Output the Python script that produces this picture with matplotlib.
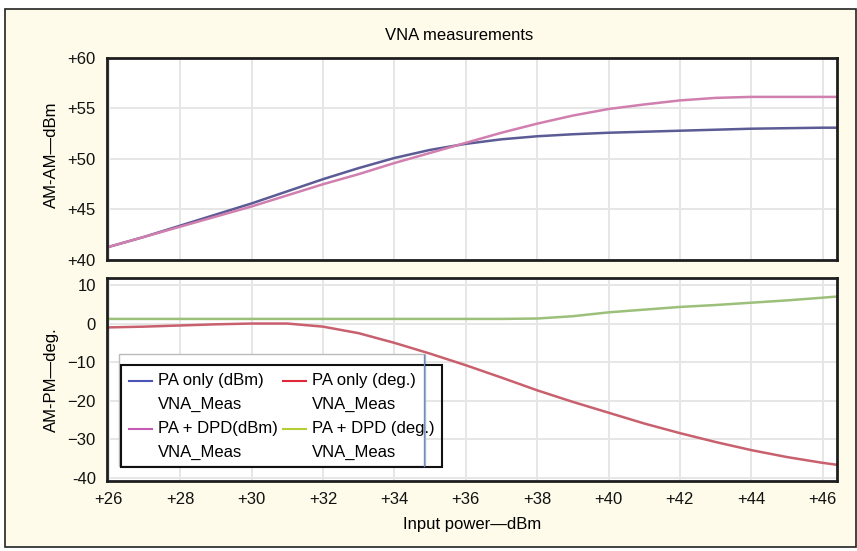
import matplotlib.pyplot as plt
from matplotlib.lines import Line2D
from matplotlib.patches import Rectangle
from matplotlib.legend_handler import HandlerLine2D

plt.rcParams['font.family'] = ['Liberation Sans', 'DejaVu Sans']

# input power, dBm
power = [26, 27, 28, 29, 30, 31, 32, 33, 34, 35, 36, 37, 38, 39, 40, 41, 42, 43, 44, 45, 46, 46.4]

# AM-AM, dBm
pa_only_dbm = [41.3, 42.3, 43.4, 44.5, 45.6, 46.8, 48.0, 49.1, 50.1, 50.9, 51.5, 51.95,
               52.25, 52.45, 52.6, 52.7, 52.8, 52.9, 53.0, 53.05, 53.1, 53.1]
pa_dpd_dbm = [41.3, 42.3, 43.3, 44.3, 45.3, 46.4, 47.5, 48.5, 49.6, 50.6, 51.6, 52.6,
              53.5, 54.3, 54.95, 55.4, 55.8, 56.05, 56.15, 56.15, 56.15, 56.15]

# AM-PM, deg.
pa_only_deg = [-1.0, -0.8, -0.5, -0.2, 0.0, 0.0, -0.8, -2.5, -5.0, -7.8, -10.8, -14.0,
               -17.3, -20.3, -23.1, -25.9, -28.4, -30.7, -32.8, -34.6, -36.1, -36.6]
pa_dpd_deg = [1.2, 1.2, 1.2, 1.2, 1.2, 1.2, 1.2, 1.2, 1.2, 1.2, 1.2, 1.2,
              1.3, 1.9, 2.9, 3.6, 4.3, 4.8, 5.4, 6.0, 6.7, 7.0]

x_ticks = [26, 28, 30, 32, 34, 36, 38, 40, 42, 44, 46]
x_labels = ['+26', '+28', '+30', '+32', '+34', '+36', '+38', '+40', '+42', '+44', '+46']
top_ticks = [40, 45, 50, 55, 60]
top_labels = ['+40', '+45', '+50', '+55', '+60']
bot_ticks = [10, 0, -10, -20, -30, -40]
bot_labels = ['10', '0', '\u221210', '\u221220', '\u221230', '-40']

legend_labels = ['PA only (dBm)\nVNA_Meas', 'PA + DPD(dBm)\nVNA_Meas',
                 'PA only (deg.)\nVNA_Meas', 'PA + DPD (deg.)\nVNA_Meas']
legend_colors = ['#4b55b5', '#c45bb5', '#e0283a', '#b5cc35']


class FirstLineHandler(HandlerLine2D):
    # put the legend line next to the first text line, not the middle
    def create_artists(self, legend, orig_handle, xdescent, ydescent, width, height, fontsize, trans):
        arts = super().create_artists(legend, orig_handle, xdescent, ydescent, width, height, fontsize, trans)
        for a in arts:
            a.set_ydata([y + 0.68 * fontsize for y in a.get_ydata()])
        return arts


W, H = 857, 551
fig = plt.figure(figsize=(W / 100, H / 100), dpi=100, facecolor='white')
fig.patches.append(Rectangle((5 / W, 1 - 547 / H), 851 / W, 538 / H, transform=fig.transFigure,
                             facecolor='#fefbea', edgecolor='#222222', linewidth=1.2, zorder=-10))

ax1 = fig.add_axes([107 / W, 1 - 260 / H, 730 / W, 202 / H])
ax2 = fig.add_axes([107 / W, 1 - 481 / H, 730 / W, 203 / H])

ax1.plot(power, pa_only_dbm, color='#5b5b95', linewidth=1.8)
ax1.plot(power, pa_dpd_dbm, color='#d07fae', linewidth=1.8)
ax2.plot(power, pa_dpd_deg, color='#9cc07a', linewidth=1.8)
ax2.plot(power, pa_only_deg, color='#c8606e', linewidth=1.8)

for ax in (ax1, ax2):
    ax.set_facecolor('white')
    ax.set_xlim(25.95, 46.4)
    ax.set_xticks(x_ticks)
    ax.grid(True, color='#e6e6e6', linewidth=1.4)
    ax.set_axisbelow(True)
    for s in ax.spines.values():
        s.set_linewidth(2)
        s.set_color('#1e1e1e')
    ax.tick_params(length=0, labelsize=12, colors='#111111')

ax1.set_ylim(40, 60)
ax1.set_yticks(top_ticks, top_labels)
ax1.tick_params(axis='x', labelbottom=False)
ax1.tick_params(axis='y', pad=8)
ax1.set_ylabel('AM-AM\u2014dBm', fontsize=12)
ax1.yaxis.set_label_coords(-0.066, 0.52)

ax2.set_ylim(-40.8, 11.8)
ax2.set_yticks(bot_ticks, bot_labels)
ax2.set_xticklabels(x_labels)
ax2.tick_params(axis='x', pad=8)
ax2.tick_params(axis='y', pad=8)
ax2.set_ylabel('AM-PM\u2014deg.', fontsize=12)
ax2.yaxis.set_label_coords(-0.066, 0.5)
ax2.set_xlabel('Input power\u2014dBm', fontsize=12, labelpad=7)

fig.text(459 / W, 1 - 35 / H, 'VNA measurements', fontsize=12, ha='center', va='center')

# pale box behind the legend
ax2.add_patch(Rectangle((119 / W, 1 - 466 / H), 306 / W, 112 / H, transform=fig.transFigure,
                        facecolor='white', edgecolor='#bbbbbb', linewidth=1, zorder=4))

handles = [Line2D([], [], color=c, linewidth=1.5) for c in legend_colors]
leg = ax2.legend(handles, legend_labels, ncol=2, loc='upper left',
                 bbox_to_anchor=(121 / W, 1 - 365 / H), bbox_transform=fig.transFigure,
                 handler_map={Line2D: FirstLineHandler()},
                 fontsize=12, frameon=True, fancybox=False,
                 handlelength=1.4, handletextpad=0.35, columnspacing=0.3,
                 labelspacing=0.55, borderpad=0.45, borderaxespad=0)
frame = leg.get_frame()
frame.set_alpha(None)
frame.set_facecolor((1, 1, 1, 0))
frame.set_edgecolor('#111111')
frame.set_linewidth(1.5)
leg.set_zorder(5)
for t in leg.get_texts():
    t.set_linespacing(1.75)

ax2.add_line(Line2D([424 / W, 424 / W], [1 - 466 / H, 1 - 355 / H], transform=fig.transFigure,
                    color='#6a8fc8', linewidth=1, zorder=6))

fig.savefig('out.png', dpi=100, facecolor='white')
